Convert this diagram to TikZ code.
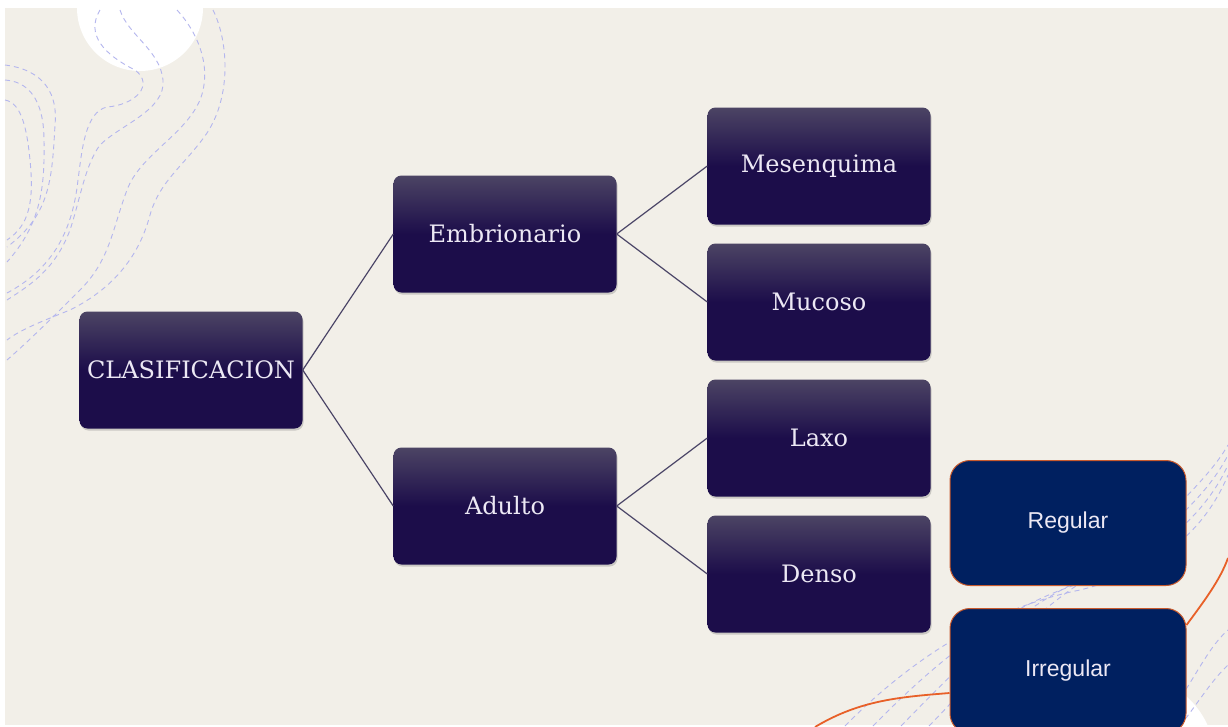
\documentclass[tikz,border=0pt]{standalone}
\usepackage{fontspec}
\setmainfont{DejaVu Serif}
\newfontfamily\regfont{Liberation Sans}
\usepackage{tikz}
\usetikzlibrary{positioning, shadows}

\definecolor{paper}{RGB}{242,239,232}
\definecolor{boxtop}{RGB}{76,68,100}
\definecolor{boxbot}{RGB}{28,13,74}
\definecolor{navy}{RGB}{0,32,96}
\definecolor{rust}{RGB}{200,90,45}
\definecolor{flame}{RGB}{232,96,40}
\definecolor{wire}{RGB}{74,68,102}
\definecolor{contour}{RGB}{180,182,238}
\definecolor{label}{RGB}{236,232,244}

\tikzset{
  tissue/.style={rectangle, rounded corners=8pt, minimum width=223pt, minimum height=117pt,
    top color=boxtop, bottom color=boxbot, middle color=boxbot, text=label,
    font=\fontsize{24}{29}\selectfont,
    drop shadow={opacity=0.35, shadow xshift=1pt, shadow yshift=-2pt}},
  kind/.style={rectangle, rounded corners=20pt, minimum width=236pt, minimum height=125pt,
    fill=navy, draw=rust, line width=1pt, text=label, font=\regfont\fontsize{23}{27}\selectfont},
  link/.style={draw=wire, line width=1.2pt},
  dashline/.style={draw=contour, line width=0.9pt, dash pattern=on 5pt off 4pt},
}

\begin{document}
\begin{tikzpicture}[x=1pt, y=-1pt, node distance=136pt, on grid]
  \useasboundingbox (0,0) rectangle (1228,726);
  \clip (0,0) rectangle (1228,726);
  \fill[white] (0,0) rectangle (1228,726);
  \fill[paper] (5,8) rectangle (1228,725);

  % background decoration
  \fill[white] (140,8) circle[radius=63];
  \fill[white] (1130,760) circle[radius=85];
  \draw[dashline] (5,65) .. controls (45,70) and (58,95) .. (55,125) .. controls (52,180) and (50,215) .. (7,247);
  \draw[dashline] (5,80) .. controls (35,82) and (44,110) .. (44,140) .. controls (45,190) and (40,225) .. (7,262);
  \draw[dashline] (5,100) .. controls (22,103) and (27,130) .. (30,160) .. controls (34,200) and (30,225) .. (7,240);
  \draw[dashline] (100,10) .. controls (85,35) and (105,55) .. (135,70) .. controls (155,85) and (135,105) .. (107,107)
    .. controls (85,112) and (82,150) .. (78,180) .. controls (72,235) and (50,270) .. (7,293);
  \draw[dashline] (120,10) .. controls (128,35) and (160,50) .. (163,80) .. controls (166,110) and (120,125) .. (100,145)
    .. controls (85,165) and (80,200) .. (70,230) .. controls (55,270) and (30,285) .. (7,300);
  \draw[dashline] (177,10) .. controls (200,35) and (212,70) .. (200,100) .. controls (185,135) and (140,155) .. (127,190)
    .. controls (112,230) and (110,260) .. (80,290) .. controls (55,315) and (30,340) .. (7,360);
  \draw[dashline] (213,10) .. controls (228,40) and (232,95) .. (207,133) .. controls (185,165) and (160,180) .. (150,215)
    .. controls (138,260) and (110,290) .. (70,310) .. controls (40,322) and (20,330) .. (7,340);
  \foreach \k in {0,1,2,3} {
    \draw[dashline] (845+28*\k,726) .. controls (900+28*\k,670) and (980+25*\k,610-10*\k) .. (1080+20*\k,590-12*\k)
      .. controls (1160,570-18*\k) and (1205,530-15*\k) .. (1228,475-10*\k);
  }
  \draw[dashline] (1160,726) .. controls (1190,690) and (1205,650) .. (1228,630);
  \draw[dashline] (1180,726) .. controls (1200,700) and (1212,680) .. (1228,665);

  % tree
  \node[tissue] (clas) at (191,370) {CLASIFICACION};
  \node[tissue] (emb) [above right=136pt and 314pt of clas] {Embrionario};
  \node[tissue] (adu) [below=272pt of emb] {Adulto};
  \node[tissue] (mes) [above right=68pt and 314pt of emb] {Mesenquima};
  \node[tissue] (muc) [below=of mes] {Mucoso};
  \node[tissue] (lax) [below=of muc] {Laxo};
  \node[tissue] (den) [below=of lax] {Denso};

  \node[kind] (reg) at (1068,523) {Regular};
  \node[kind] (irr) [below=148pt of reg] {Irregular};

  \path[link]
  (clas.east) edge (emb.west)
    (clas.east) edge (adu.west)
  (emb.east) edge (mes.west)
    (emb.east) edge (muc.west)
  (adu.east) edge (lax.west)
    (adu.east) edge (den.west);

  % orange strokes
  \draw[flame, line width=1.8pt] (815,727) .. controls (860,700) and (900,697) .. (irr.west |- 0,693);
  \draw[flame, line width=1.8pt] (irr.east |- 0,625) .. controls (1205,600) and (1220,580) .. (1228,558);
\end{tikzpicture}
\end{document}
